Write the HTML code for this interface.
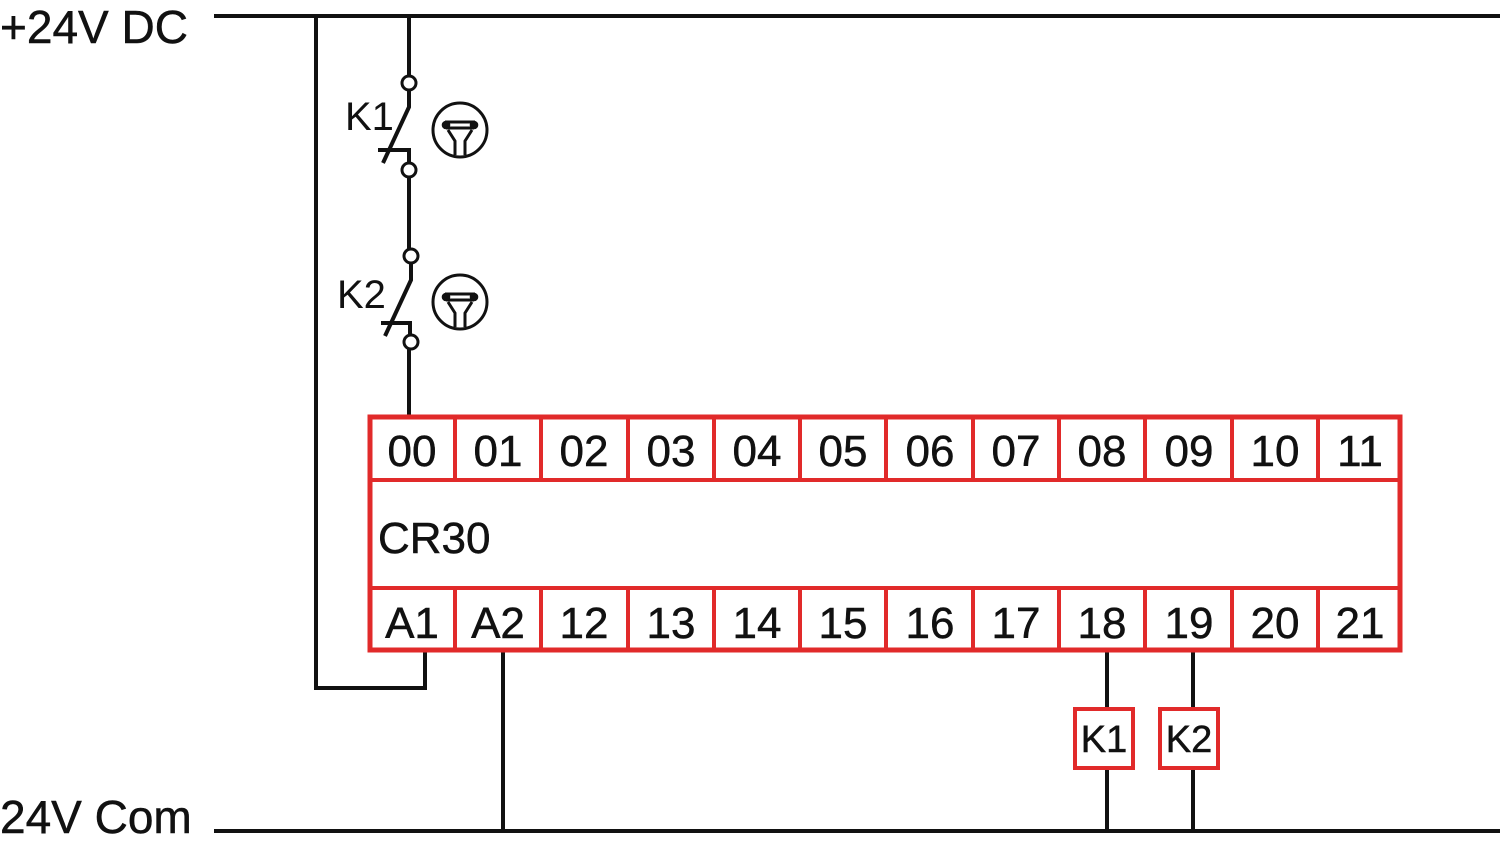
<!DOCTYPE html>
<html><head><style>body{margin:0;background:#fff}svg{display:block}</style></head>
<body>
<svg width="1500" height="846" viewBox="0 0 1500 846" xmlns="http://www.w3.org/2000/svg" font-family="Liberation Sans, sans-serif">
<g stroke="#111" stroke-width="4" fill="none">
<line x1="214" y1="16" x2="1500" y2="16"/>
<line x1="214" y1="831" x2="1500" y2="831"/>
<polyline points="316,16 316,688 425,688 425,652"/>
<line x1="409" y1="16" x2="409" y2="76"/>
<circle cx="409" cy="83" r="7" stroke-width="3"/>
<polyline points="409,90 409,107 383,163"/>
<polyline points="378,150 409,150 409,163"/>
<circle cx="409" cy="170" r="7" stroke-width="3"/>
<line x1="409" y1="177" x2="409" y2="249"/>
<circle cx="411" cy="256" r="7" stroke-width="3"/>
<polyline points="411,263 411,280 385,336"/>
<polyline points="381,323 410,323 410,335"/>
<circle cx="411" cy="342" r="7" stroke-width="3"/>
<line x1="409" y1="349" x2="409" y2="417"/>
<line x1="503" y1="652" x2="503" y2="831"/>
<line x1="1107" y1="652" x2="1107" y2="709"/>
<line x1="1107" y1="768" x2="1107" y2="831"/>
<line x1="1193" y1="652" x2="1193" y2="709"/>
<line x1="1193" y1="768" x2="1193" y2="831"/>
<circle cx="460" cy="130" r="27" stroke-width="3"/>
<circle cx="460" cy="302" r="27" stroke-width="3"/>
</g>
<g stroke="#111" stroke-width="3" fill="none">
<line x1="445" y1="122" x2="475" y2="122"/><line x1="446" y1="128" x2="474" y2="128"/>
<polyline points="448,130 455,141 455,155"/><polyline points="472,130 465,141 465,155"/>
<line x1="445" y1="294" x2="475" y2="294"/><line x1="446" y1="300" x2="474" y2="300"/>
<polyline points="448,302 455,313 455,327"/><polyline points="472,302 465,313 465,327"/>
</g>
<g fill="#111" stroke="#111" stroke-width="0.6">
<circle cx="446" cy="125" r="4"/><circle cx="474" cy="125" r="4"/>
<circle cx="446" cy="297" r="4"/><circle cx="474" cy="297" r="4"/>
</g>
<g fill="#111" font-size="40">
<text x="345" y="130">K1</text>
<text x="337" y="308">K2</text>
</g>
<g fill="none" stroke="#e12a2a">
<rect x="370" y="417" width="1030" height="233" stroke-width="5"/>
<line x1="370" y1="480" x2="1400" y2="480" stroke-width="4"/>
<line x1="370" y1="588" x2="1400" y2="588" stroke-width="4"/>
<g stroke-width="4">
<line x1="455" y1="417" x2="455" y2="480"/><line x1="541" y1="417" x2="541" y2="480"/><line x1="628" y1="417" x2="628" y2="480"/><line x1="714" y1="417" x2="714" y2="480"/><line x1="800" y1="417" x2="800" y2="480"/><line x1="886" y1="417" x2="886" y2="480"/><line x1="973" y1="417" x2="973" y2="480"/><line x1="1059" y1="417" x2="1059" y2="480"/><line x1="1145" y1="417" x2="1145" y2="480"/><line x1="1232" y1="417" x2="1232" y2="480"/><line x1="1318" y1="417" x2="1318" y2="480"/>
<line x1="455" y1="588" x2="455" y2="650"/><line x1="541" y1="588" x2="541" y2="650"/><line x1="628" y1="588" x2="628" y2="650"/><line x1="714" y1="588" x2="714" y2="650"/><line x1="800" y1="588" x2="800" y2="650"/><line x1="886" y1="588" x2="886" y2="650"/><line x1="973" y1="588" x2="973" y2="650"/><line x1="1059" y1="588" x2="1059" y2="650"/><line x1="1145" y1="588" x2="1145" y2="650"/><line x1="1232" y1="588" x2="1232" y2="650"/><line x1="1318" y1="588" x2="1318" y2="650"/>
</g>
<rect x="1075" y="709" width="58" height="59" fill="#fff" stroke-width="4"/>
<rect x="1160" y="709" width="58" height="59" fill="#fff" stroke-width="4"/>
</g>
<g fill="#111" font-size="44" text-anchor="middle" stroke="#111" stroke-width="0.5">
<text x="412" y="466">00</text><text x="498" y="466">01</text><text x="584" y="466">02</text><text x="671" y="466">03</text><text x="757" y="466">04</text><text x="843" y="466">05</text><text x="930" y="466">06</text><text x="1016" y="466">07</text><text x="1102" y="466">08</text><text x="1189" y="466">09</text><text x="1275" y="466">10</text><text x="1360" y="466">11</text>
<text x="412" y="638">A1</text><text x="498" y="638">A2</text><text x="584" y="638">12</text><text x="671" y="638">13</text><text x="757" y="638">14</text><text x="843" y="638">15</text><text x="930" y="638">16</text><text x="1016" y="638">17</text><text x="1102" y="638">18</text><text x="1189" y="638">19</text><text x="1275" y="638">20</text><text x="1360" y="638">21</text>
<text x="1104" y="752" font-size="38">K1</text><text x="1189" y="752" font-size="38">K2</text>
</g>
<g fill="#111" font-size="44" stroke="#111" stroke-width="0.5">
<text x="378" y="553">CR30</text>
<text x="0" y="43" font-size="46">+24V DC</text>
<text x="0" y="833" font-size="46">24V Com</text>
</g>
</svg>
</body></html>
